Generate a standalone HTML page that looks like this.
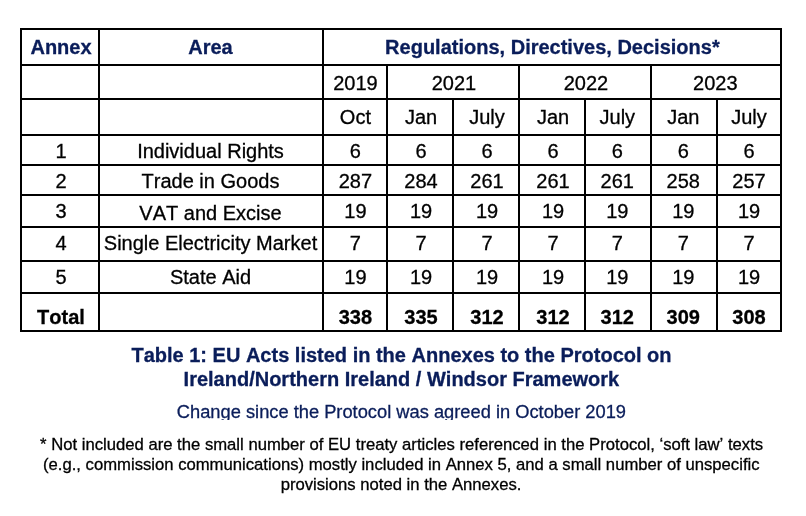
<!DOCTYPE html><html><head><meta charset="utf-8"><style>
html,body{margin:0;padding:0;background:#fff}
body{width:806px;height:516px;position:relative;overflow:hidden;font-family:"Liberation Sans",sans-serif;color:#000}
.h,.v{position:absolute;background:#000}
.t{position:absolute;text-align:center;white-space:nowrap;font-size:20px;line-height:24px;height:24px;will-change:transform;font-kerning:none;-webkit-text-stroke:0.3px currentColor}
.b{font-weight:bold}
.n{color:#0a1d5a}

</style></head><body>
<div class="h" style="left:20px;top:28px;width:762px;height:2px"></div>
<div class="h" style="left:20px;top:64px;width:762px;height:2px"></div>
<div class="h" style="left:20px;top:98px;width:762px;height:2px"></div>
<div class="h" style="left:20px;top:134px;width:762px;height:2px"></div>
<div class="h" style="left:20px;top:164px;width:762px;height:2px"></div>
<div class="h" style="left:20px;top:194px;width:762px;height:2px"></div>
<div class="h" style="left:20px;top:226px;width:762px;height:2px"></div>
<div class="h" style="left:20px;top:260px;width:762px;height:2px"></div>
<div class="h" style="left:20px;top:292px;width:762px;height:2px"></div>
<div class="h" style="left:20px;top:330px;width:762px;height:2px"></div>
<div class="v" style="left:20px;top:28px;width:2px;height:304px"></div>
<div class="v" style="left:98px;top:28px;width:2px;height:304px"></div>
<div class="v" style="left:322px;top:28px;width:2px;height:304px"></div>
<div class="v" style="left:386px;top:64px;width:2px;height:268px"></div>
<div class="v" style="left:452px;top:98px;width:2px;height:234px"></div>
<div class="v" style="left:518px;top:64px;width:2px;height:268px"></div>
<div class="v" style="left:584px;top:98px;width:2px;height:234px"></div>
<div class="v" style="left:650px;top:64px;width:2px;height:268px"></div>
<div class="v" style="left:716px;top:98px;width:2px;height:234px"></div>
<div class="v" style="left:780px;top:28px;width:2px;height:304px"></div>
<div class="t b n" style="left:-28px;width:176px;top:35px;transform:translateX(1px)">Annex</div>
<div class="t b n" style="left:50px;width:322px;top:35px;transform:translateX(-0.5px)">Area</div>
<div class="t b n" style="left:274px;width:556px;top:35px;transform:translateX(0.4px)">Regulations, Directives, Decisions*</div>
<div class="t " style="left:274px;width:162px;top:71px;transform:translateX(0.4px)">2019</div>
<div class="t " style="left:338px;width:230px;top:71px;transform:translateX(1px)">2021</div>
<div class="t " style="left:470px;width:230px;top:71px;transform:translateX(1px)">2022</div>
<div class="t " style="left:602px;width:228px;top:71px;transform:translateX(-0.7px)">2023</div>
<div class="t " style="left:274px;width:162px;top:105px;transform:translateX(0.4px)">Oct</div>
<div class="t " style="left:338px;width:164px;top:105px;transform:translateX(1px)">Jan</div>
<div class="t " style="left:404px;width:164px;top:105px;transform:translateX(1px)">July</div>
<div class="t " style="left:470px;width:164px;top:105px;transform:translateX(1px)">Jan</div>
<div class="t " style="left:536px;width:164px;top:105px;transform:translateX(-0.7px)">July</div>
<div class="t " style="left:602px;width:164px;top:105px;transform:translateX(-0.7px)">Jan</div>
<div class="t " style="left:668px;width:162px;top:105px">July</div>
<div class="t " style="left:-28px;width:176px;top:139px;transform:translateX(1px)">1</div>
<div class="t " style="left:50px;width:322px;top:139px;transform:translateX(-0.5px)">Individual Rights</div>
<div class="t " style="left:274px;width:162px;top:139px;transform:translateX(0.4px)">6</div>
<div class="t " style="left:338px;width:164px;top:139px;transform:translateX(1px)">6</div>
<div class="t " style="left:404px;width:164px;top:139px;transform:translateX(1px)">6</div>
<div class="t " style="left:470px;width:164px;top:139px;transform:translateX(1px)">6</div>
<div class="t " style="left:536px;width:164px;top:139px;transform:translateX(-0.7px)">6</div>
<div class="t " style="left:602px;width:164px;top:139px;transform:translateX(-0.7px)">6</div>
<div class="t " style="left:668px;width:162px;top:139px">6</div>
<div class="t " style="left:-28px;width:176px;top:169px;transform:translateX(1px)">2</div>
<div class="t " style="left:50px;width:322px;top:169px;transform:translateX(-0.5px)">Trade in Goods</div>
<div class="t " style="left:274px;width:162px;top:169px;transform:translateX(0.4px)">287</div>
<div class="t " style="left:338px;width:164px;top:169px;transform:translateX(1px)">284</div>
<div class="t " style="left:404px;width:164px;top:169px;transform:translateX(1px)">261</div>
<div class="t " style="left:470px;width:164px;top:169px;transform:translateX(1px)">261</div>
<div class="t " style="left:536px;width:164px;top:169px;transform:translateX(-0.7px)">261</div>
<div class="t " style="left:602px;width:164px;top:169px;transform:translateX(-0.7px)">258</div>
<div class="t " style="left:668px;width:162px;top:169px">257</div>
<div class="t " style="left:-28px;width:176px;top:199px;transform:translateX(1px)">3</div>
<div class="t " style="left:50px;width:322px;top:201px;transform:translateX(-0.5px)">VAT and Excise</div>
<div class="t " style="left:274px;width:162px;top:199px;transform:translateX(0.4px)">19</div>
<div class="t " style="left:338px;width:164px;top:199px;transform:translateX(1px)">19</div>
<div class="t " style="left:404px;width:164px;top:199px;transform:translateX(1px)">19</div>
<div class="t " style="left:470px;width:164px;top:199px;transform:translateX(1px)">19</div>
<div class="t " style="left:536px;width:164px;top:199px;transform:translateX(-0.7px)">19</div>
<div class="t " style="left:602px;width:164px;top:199px;transform:translateX(-0.7px)">19</div>
<div class="t " style="left:668px;width:162px;top:199px">19</div>
<div class="t " style="left:-28px;width:176px;top:231px;transform:translateX(1px)">4</div>
<div class="t " style="left:50px;width:322px;top:231px;transform:translateX(-0.5px)">Single Electricity Market</div>
<div class="t " style="left:274px;width:162px;top:231px;transform:translateX(0.4px)">7</div>
<div class="t " style="left:338px;width:164px;top:231px;transform:translateX(1px)">7</div>
<div class="t " style="left:404px;width:164px;top:231px;transform:translateX(1px)">7</div>
<div class="t " style="left:470px;width:164px;top:231px;transform:translateX(1px)">7</div>
<div class="t " style="left:536px;width:164px;top:231px;transform:translateX(-0.7px)">7</div>
<div class="t " style="left:602px;width:164px;top:231px;transform:translateX(-0.7px)">7</div>
<div class="t " style="left:668px;width:162px;top:231px">7</div>
<div class="t " style="left:-28px;width:176px;top:265px;transform:translateX(1px)">5</div>
<div class="t " style="left:50px;width:322px;top:265px;transform:translateX(-0.5px)">State Aid</div>
<div class="t " style="left:274px;width:162px;top:265px;transform:translateX(0.4px)">19</div>
<div class="t " style="left:338px;width:164px;top:265px;transform:translateX(1px)">19</div>
<div class="t " style="left:404px;width:164px;top:265px;transform:translateX(1px)">19</div>
<div class="t " style="left:470px;width:164px;top:265px;transform:translateX(1px)">19</div>
<div class="t " style="left:536px;width:164px;top:265px;transform:translateX(-0.7px)">19</div>
<div class="t " style="left:602px;width:164px;top:265px;transform:translateX(-0.7px)">19</div>
<div class="t " style="left:668px;width:162px;top:265px">19</div>
<div class="t b" style="left:-28px;width:176px;top:305px;transform:translateX(1px)">Total</div>
<div class="t b" style="left:274px;width:162px;top:305px;transform:translateX(0.4px)">338</div>
<div class="t b" style="left:338px;width:164px;top:305px;transform:translateX(1px)">335</div>
<div class="t b" style="left:404px;width:164px;top:305px;transform:translateX(1px)">312</div>
<div class="t b" style="left:470px;width:164px;top:305px;transform:translateX(1px)">312</div>
<div class="t b" style="left:536px;width:164px;top:305px;transform:translateX(-0.7px)">312</div>
<div class="t b" style="left:602px;width:164px;top:305px;transform:translateX(-0.7px)">309</div>
<div class="t b" style="left:668px;width:162px;top:305px">308</div>
<div class="t b n" style="left:0px;width:800px;top:343px;font-size:20px;line-height:24px;height:24px;transform:translateX(1.50px);">Table 1: EU Acts listed in the Annexes to the Protocol on</div>
<div class="t b n" style="left:0px;width:800px;top:367px;font-size:20px;line-height:24px;height:24px;transform:translateX(1.40px);">Ireland/Northern Ireland / Windsor Framework</div>
<div class="t n" style="left:0px;width:800px;top:401px;font-size:18.3px;line-height:22px;height:22px;transform:translateX(1.40px);">Change since the Protocol was agreed in October 2019</div>
<div style="position:absolute;left:0;width:806px;top:419.5px;height:10px;background:#fff"></div>
<div class="t " style="left:0px;width:800px;top:435px;font-size:16.67px;line-height:20px;height:20px;transform:translateX(1.60px);">* Not included are the small number of EU treaty articles referenced in the Protocol, ‘soft law’ texts</div>
<div class="t " style="left:0px;width:800px;top:455px;font-size:16.67px;line-height:20px;height:20px;transform:translateX(1.30px);">(e.g., commission communications) mostly included in Annex 5, and a small number of unspecific</div>
<div class="t " style="left:0px;width:800px;top:475px;font-size:16.67px;line-height:20px;height:20px;transform:translateX(1.00px);">provisions noted in the Annexes.</div>
</body></html>
